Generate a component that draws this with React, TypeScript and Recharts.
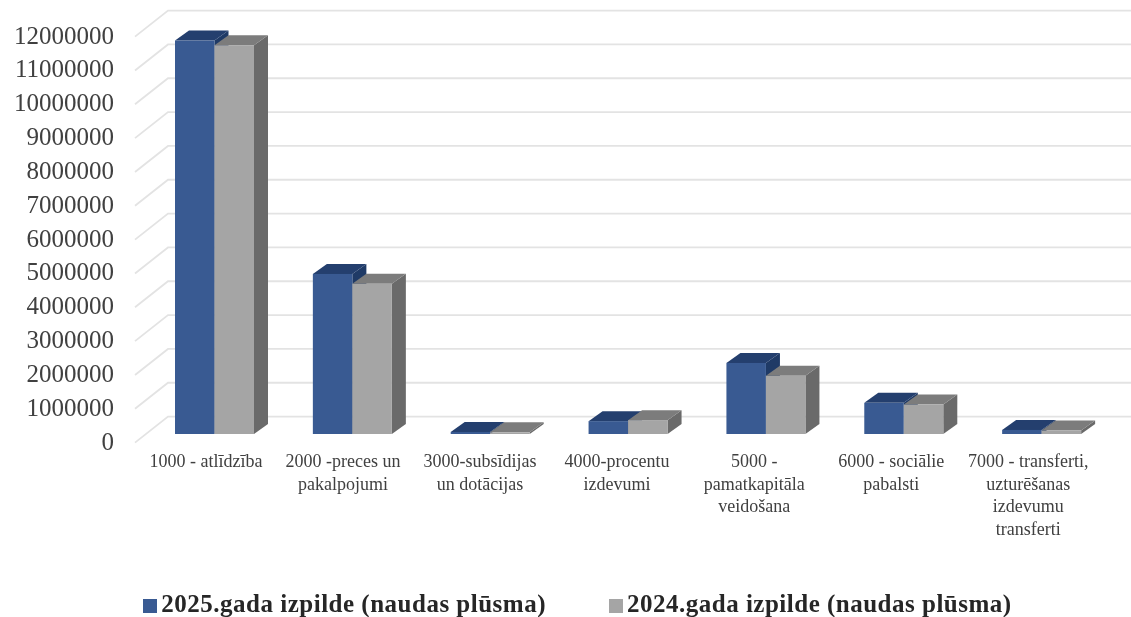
import { BarChart, Bar, XAxis, YAxis, CartesianGrid, Legend } from "recharts";

const categories = [
  "1000 - atlīdzība",
  "2000 -preces un\npakalpojumi",
  "3000-subsīdijas\nun dotācijas",
  "4000-procentu\nizdevumi",
  "5000 -\npamatkapitāla\nveidošana",
  "6000 - sociālie\npabalsti",
  "7000 - transferti,\nuzturēšanas\nizdevumu\ntransferti",
];
const values2025 = [11630000, 4730000, 60000, 380000, 2100000, 920000, 120000];
const values2024 = [11490000, 4440000, 50000, 410000, 1720000, 870000, 100000];
const yTicks = [
  0, 1000000, 2000000, 3000000, 4000000, 5000000, 6000000, 7000000, 8000000,
  9000000, 10000000, 11000000, 12000000,
];

const data = categories.map((name, i) => ({
  name,
  y2025: values2025[i],
  y2024: values2024[i],
}));

const SERIF = "'Liberation Serif', serif";
const DEPTH_X = 14;
const DEPTH_Y = 10;

function box3d(topColor: string, sideColor: string) {
  return (props: any) => {
    const { x, y, width, height, fill } = props;
    const r = x + width;
    const b = y + height;
    return (
      <g>
        <polygon
          points={`${r},${y} ${r + DEPTH_X},${y - DEPTH_Y} ${r + DEPTH_X},${b - DEPTH_Y} ${r},${b}`}
          fill={sideColor}
        />
        <polygon
          points={`${x},${y} ${x + DEPTH_X},${y - DEPTH_Y} ${r + DEPTH_X},${y - DEPTH_Y} ${r},${y}`}
          fill={topColor}
        />
        <rect x={x} y={y} width={width} height={height} fill={fill} />
      </g>
    );
  };
}

// the 3d wall: a slanted piece on the floor side and then the line along the back
function gridLine(props: any) {
  const { x1, y1, index } = props;
  return (
    <path
      key={index}
      d={`M${x1 - 11},${y1 + 8.6} L${x1 + 22},${y1 - 17.4} L1131,${y1 - 17.4}`}
      fill="none"
      stroke="#e3e3e3"
      strokeWidth={1.8}
    />
  );
}

function YTick({ x, y, payload }: any) {
  return (
    <text x={x} y={y + 15.5} textAnchor="end" fontFamily={SERIF} fontSize={25} fill="#404040">
      {payload.value}
    </text>
  );
}

function XTick({ x, y, payload, index }: any) {
  const lines = String(payload.value).split("\n");
  return (
    <text textAnchor="middle" fontFamily={SERIF} fontSize={18} fill="#404040">
      {lines.map((line, i) => (
        <tspan key={i} x={x - 9 - index * 0.8} y={y + 25 + i * 22.6}>
          {line}
        </tspan>
      ))}
    </text>
  );
}

export default function App() {
  return (
    <div style={{ position: "absolute", left: 0, top: 0, filter: "blur(0.6px)" }}>
      <BarChart
        width={1131}
        height={617}
        data={data}
        barSize={39.5}
        barGap={0}
        margin={{ top: 28, right: 20, left: 0, bottom: 125 }}
      >
        <CartesianGrid horizontal={gridLine} vertical={false} />
        <XAxis
          dataKey="name"
          axisLine={false}
          tickLine={false}
          interval={0}
          height={30}
          tick={<XTick />}
        />
        <YAxis
          width={146}
          domain={[0, 12000000]}
          ticks={yTicks}
          interval={0}
          axisLine={false}
          tickLine={false}
          tickSize={0}
          tickMargin={32}
          tick={<YTick />}
        />
        <Legend
          verticalAlign="bottom"
          iconType="square"
          iconSize={14}
          itemSorter={null}
          wrapperStyle={{
            fontFamily: SERIF,
            fontSize: 25,
            fontWeight: "bold",
            letterSpacing: 0.5,
            bottom: -1,
            left: 27,
          }}
          formatter={(value: string, _entry: any, index: number) => (
            <span style={{ color: "#262626", marginRight: index === 0 ? 53 : 0 }}>{value}</span>
          )}
        />
        <Bar
          dataKey="y2025"
          name="2025.gada izpilde (naudas plūsma)"
          fill="#395a92"
          shape={box3d("#243f6e", "#1f3a66")}
          isAnimationActive={false}
        />
        <Bar
          dataKey="y2024"
          name="2024.gada izpilde (naudas plūsma)"
          fill="#a5a5a5"
          shape={box3d("#7c7c7c", "#6a6a6a")}
          isAnimationActive={false}
        />
      </BarChart>
    </div>
  );
}
